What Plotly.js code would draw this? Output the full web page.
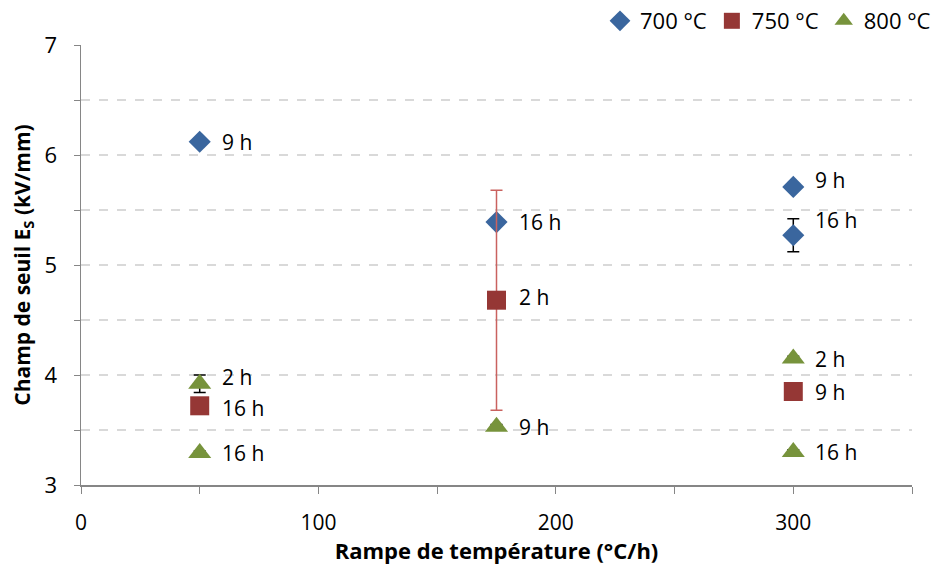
<!DOCTYPE html>
<html>
<head>
<meta charset="utf-8">
<script src="https://cdn.plot.ly/plotly-3.0.1.min.js"></script>
<style>body{margin:0;background:#fff}#chart{width:936px;height:565px}</style>
</head>
<body>
<div id="chart"></div>
<script>
// Data
const seriesNames = ['700 °C', '750 °C', '800 °C'];

const x700 = [50, 175, 300, 300];
const y700 = [6.12, 5.39, 5.71, 5.27];
const err700 = [0.03, 0, 0, 0.15];
const labels700 = ['9 h', '16 h', '9 h', '16 h'];

const x750 = [175, 50, 300];
const y750 = [4.68, 3.72, 3.85];
const err750 = [1.0, 0, 0];
const labels750 = ['2 h', '16 h', '9 h'];

const x800 = [50, 50, 175, 300, 300];
const y800 = [3.92, 3.29, 3.53, 4.15, 3.30];
const err800 = [0.08, 0.02, 0.02, 0.02, 0.02];
const labels800 = ['2 h', '16 h', '9 h', '2 h', '16 h'];

const xTicks = [0, 50, 100, 150, 200, 250, 300, 350];
const xTickText = ['0', ' ', '100', ' ', '200', ' ', '300', ' '];
const yTicks = [3, 3.5, 4, 4.5, 5, 5.5, 6, 6.5, 7];
const yTickText = ['3', ' ', '4', ' ', '5', ' ', '6', ' ', '7'];

// Styling (kept separate from data)
const FONT = 'Open Sans, Noto Sans, sans-serif';
const colors = ['#3A669E', '#953735', '#77933C'];
const errColors = ['#000000', '#C9625F', '#000000'];
const symbols = ['diamond', 'square', 'triangle-up'];
const sizes = [17, 19, 20];
// label vertical shifts (px) for readability, per point
const shift700 = [0, 0, 7, 15];
const shift750 = [3, -2, 0];
const shift800 = [7, 0, 0, 0, 0];

const xs = [x700, x750, x800];
const ys = [y700, y750, y800];
const errs = [err700, err750, err800];
const labs = [labels700, labels750, labels800];
const shifts = [shift700, shift750, shift800];

const traces = xs.map((x, i) => ({
  type: 'scatter', mode: 'markers', name: seriesNames[i],
  x: x, y: ys[i],
  marker: {symbol: symbols[i], size: sizes[i], color: colors[i], line: {width: 0}},
  error_y: {type: 'data', array: errs[i], visible: true, color: errColors[i], thickness: 1.5, width: 6},
  cliponaxis: false
}));

const annotations = [];
xs.forEach((x, i) => {
  x.forEach((xv, j) => {
    annotations.push({
      x: xv, y: ys[i][j], xref: 'x', yref: 'y', text: labs[i][j],
      showarrow: false, xanchor: 'left', yanchor: 'middle',
      xshift: 20, yshift: shifts[i][j],
      font: {family: FONT, size: 21, color: '#000'}
    });
  });
});

const layout = {
  width: 936, height: 565,
  margin: {l: 81, r: 24, t: 45, b: 80},
  paper_bgcolor: '#fff', plot_bgcolor: '#fff',
  font: {family: FONT, size: 21, color: '#000'},
  showlegend: true,
  legend: {
    orientation: 'h', xref: 'container', yref: 'container',
    x: 1.0, xanchor: 'right', y: 1.0, yanchor: 'top',
    font: {family: FONT, size: 22, color: '#000'},
    bgcolor: 'rgba(0,0,0,0)', itemwidth: 30, tracegroupgap: 0
  },
  xaxis: {
    range: [0, 350], tickmode: 'array', tickvals: xTicks, ticktext: xTickText,
    ticks: 'outside', ticklen: 7, tickcolor: '#868686', tickwidth: 1,
    showline: true, linecolor: '#868686', linewidth: 1.5,
    showgrid: false, zeroline: false, ticklabelstandoff: 11,
    tickfont: {family: FONT, size: 21, color: '#000'},
    title: {text: 'Rampe de température (°C/h)', font: {family: FONT, size: 22, color: '#000', weight: 'bold'}, standoff: 8}
  },
  yaxis: {
    range: [3, 7], tickmode: 'array', tickvals: yTicks, ticktext: yTickText,
    ticks: 'outside', ticklen: 6, tickcolor: '#868686', tickwidth: 1,
    showline: true, linecolor: '#868686', linewidth: 1.5,
    showgrid: true, gridcolor: '#D9D9D9', gridwidth: 1.5, griddash: 'dash',
    zeroline: false, ticklabelstandoff: 12,
    tickfont: {family: FONT, size: 22, color: '#000'},
    title: {text: 'Champ de seuil E<sub>S</sub> (kV/mm)', font: {family: FONT, size: 21, color: '#000', weight: 'bold'}, standoff: 8}
  },
  annotations: annotations
};

Plotly.newPlot('chart', traces, layout, {displayModeBar: false, staticPlot: true});
</script>
</body>
</html>
